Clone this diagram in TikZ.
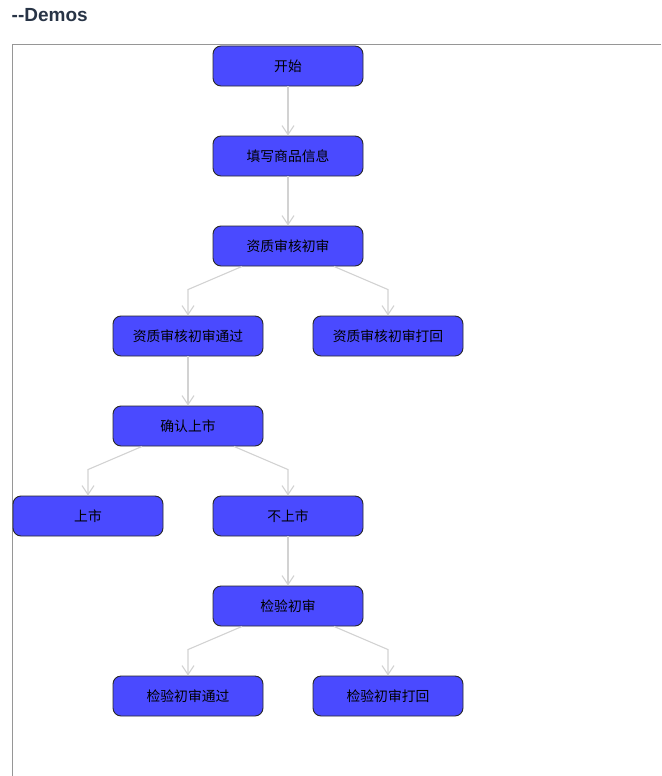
\documentclass[tikz,border=0pt]{standalone}
\usepackage{fontspec}
\setmainfont{Liberation Sans}
\newfontfamily\cjk{Noto Sans CJK SC}
\usetikzlibrary{arrows.meta,calc}
\definecolor{boxfill}{RGB}{74,74,255}
\definecolor{boxline}{RGB}{40,40,40}
\definecolor{connline}{RGB}{210,210,210}
\definecolor{titlecol}{RGB}{40,52,70}
\definecolor{framecol}{RGB}{150,150,150}
\tikzset{
  flowbox/.style={draw=boxline, line width=0.9pt, fill=boxfill, rounded corners=8pt,
    minimum width=150pt, minimum height=40pt, inner sep=0pt,
    font=\cjk\fontsize{13.8pt}{15pt}\selectfont, text=black},
  conn/.style={draw=connline, line width=1.1pt,
    -{Straight Barb[length=9pt,width=12pt,line width=1.1pt]}}
}
\begin{document}
\begin{tikzpicture}[x=1pt,y=-1pt]
\useasboundingbox (0,0) rectangle (661,776);
% frame
\draw[framecol, line width=1pt] (661,45) -- (12,45) -- (12,776);
% title
\node[anchor=west, inner sep=0pt, text=titlecol, font=\bfseries\fontsize{19pt}{21pt}\selectfont] (title) at (11.5,15) {{-}{-}Demos};
% nodes
\node[flowbox] (n1) at (288,66) {开始};
\node[flowbox] (n2) at (288,156) {填写商品信息};
\node[flowbox] (n3) at (288,246) {资质审核初审};
\node[flowbox] (n4) at (188,336) {资质审核初审通过};
\node[flowbox] (n5) at (388,336) {资质审核初审打回};
\node[flowbox] (n6) at (188,426) {确认上市};
\node[flowbox] (n7) at (88,516) {上市};
\node[flowbox] (n8) at (288,516) {不上市};
\node[flowbox] (n9) at (288,606) {检验初审};
\node[flowbox] (n10) at (188,696) {检验初审通过};
\node[flowbox] (n11) at (388,696) {检验初审打回};
% connectors
\draw[conn] (n1.south) -- (n2.north);
\draw[conn] (n2.south) -- (n3.north);
\draw[conn] ($(n3.south)+(-46,0)$) -- ($(n4.north)+(0,-26)$) -- (n4.north);
\draw[conn] ($(n3.south)+(46,0)$) -- ($(n5.north)+(0,-26)$) -- (n5.north);
\draw[conn] (n4.south) -- (n6.north);
\draw[conn] ($(n6.south)+(-46,0)$) -- ($(n7.north)+(0,-26)$) -- (n7.north);
\draw[conn] ($(n6.south)+(46,0)$) -- ($(n8.north)+(0,-26)$) -- (n8.north);
\draw[conn] (n8.south) -- (n9.north);
\draw[conn] ($(n9.south)+(-46,0)$) -- ($(n10.north)+(0,-26)$) -- (n10.north);
\draw[conn] ($(n9.south)+(46,0)$) -- ($(n11.north)+(0,-26)$) -- (n11.north);
\end{tikzpicture}
\end{document}
